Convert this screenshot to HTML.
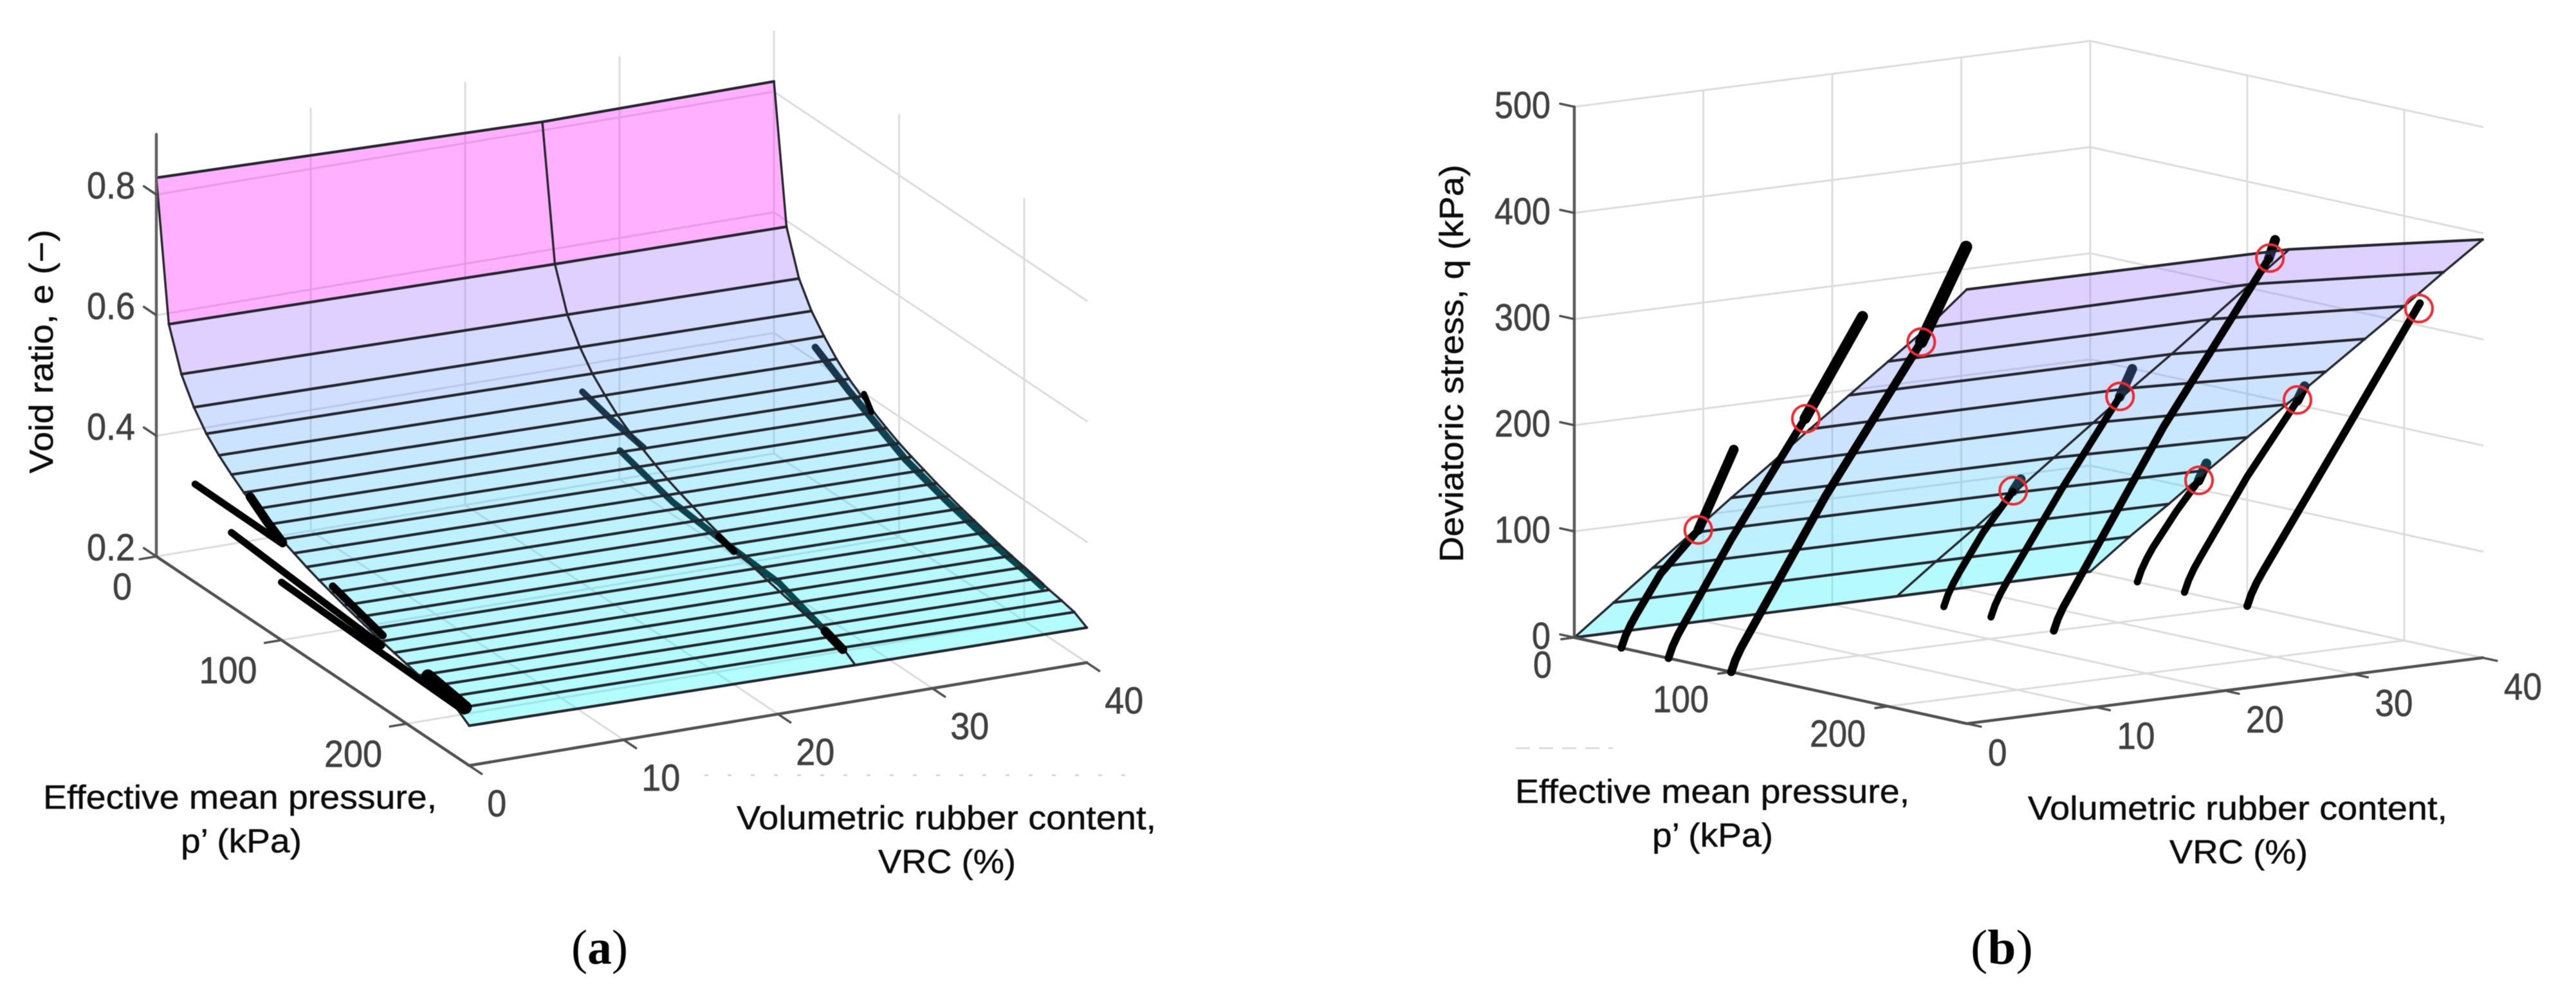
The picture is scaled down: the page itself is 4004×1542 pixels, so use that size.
<!DOCTYPE html>
<html lang="en">
<head>
<meta charset="utf-8">
<title>Void ratio and deviatoric stress surfaces</title>
<style>
html,body{margin:0;padding:0;background:#fff;}
svg{display:block;filter:blur(0.6px);}
text{font-family:"Liberation Sans",sans-serif;}
.title{font-size:52px;fill:#0c0c0c;stroke:#0c0c0c;stroke-width:0.5px;}
.tick{font-size:58px;fill:#404040;stroke:#404040;stroke-width:0.7px;}
.cap{font-family:"Liberation Serif",serif;font-size:76px;fill:#000;}
</style>
</head>
<body>
<svg id="chart" width="4004" height="1542" viewBox="0 0 4004 1542">
  <rect width="4004" height="1542" fill="#ffffff"/>
  <g id="panelA"></g>
  <g id="panelB"></g>

  <line x1="1095" y1="1205" x2="1750" y2="1205" stroke="#cfcfcf" stroke-width="2.5" stroke-dasharray="6 30"/>
  <line x1="2356" y1="1163" x2="2507" y2="1163" stroke="#d4d4d4" stroke-width="2.5" stroke-dasharray="22 14"/>

  <text class="title" transform="translate(82,736) rotate(-90)" textLength="379" lengthAdjust="spacingAndGlyphs">Void ratio, e (−)</text>
  <text class="title" x="67" y="1257" textLength="612" lengthAdjust="spacingAndGlyphs">Effective mean pressure,</text>
  <text class="title" x="281" y="1325" textLength="188" lengthAdjust="spacingAndGlyphs">p’ (kPa)</text>
  <text class="title" x="1145" y="1289" textLength="652" lengthAdjust="spacingAndGlyphs">Volumetric rubber content,</text>
  <text class="title" x="1365" y="1357" textLength="214" lengthAdjust="spacingAndGlyphs">VRC (%)</text>
  <text class="cap" x="888" y="1498" textLength="88" lengthAdjust="spacingAndGlyphs">(<tspan font-weight="bold">a</tspan>)</text>

  <text class="title" transform="translate(2274,874) rotate(-90)" textLength="618" lengthAdjust="spacingAndGlyphs">Deviatoric stress, q (kPa)</text>
  <text class="title" x="2355" y="1248" textLength="613" lengthAdjust="spacingAndGlyphs">Effective mean pressure,</text>
  <text class="title" x="2568" y="1316" textLength="188" lengthAdjust="spacingAndGlyphs">p’ (kPa)</text>
  <text class="title" x="3152" y="1274" textLength="652" lengthAdjust="spacingAndGlyphs">Volumetric rubber content,</text>
  <text class="title" x="3372" y="1342" textLength="215" lengthAdjust="spacingAndGlyphs">VRC (%)</text>
  <text class="cap" x="3063" y="1498" textLength="97" lengthAdjust="spacingAndGlyphs">(<tspan font-weight="bold">b</tspan>)</text>
</svg>

<script>
/* ---------- Panel A data ---------- */
const aVrcTicks = [0, 10, 20, 30, 40];
const aPressureTicks = [0, 100, 200];
const aVoidTicks = [0.2, 0.4, 0.6, 0.8];
const aVoidTickLabels = ['0.2', '0.4', '0.6', '0.8'];
const aWallVoidLevels = [0.2, 0.4, 0.6, 0.8];
const aMeshVrc = [0, 25, 40];
const aMeshPressure = [0, 10, 20, 30, 40, 50, 60, 70, 80, 90, 100, 110, 120, 130, 140, 150, 160, 170, 180, 190, 200, 210, 220, 230, 240, 250];
const aVoidAtVrc0 = [0.828, 0.599, 0.530, 0.489, 0.459, 0.437, 0.419, 0.403, 0.390, 0.378, 0.367, 0.358, 0.349, 0.341, 0.334, 0.327, 0.321, 0.315, 0.309, 0.304, 0.299, 0.294, 0.290, 0.285, 0.281, 0.266];
const aVoidAtVrc25 = [0.814, 0.592, 0.522, 0.482, 0.452, 0.430, 0.411, 0.396, 0.383, 0.371, 0.360, 0.351, 0.343, 0.335, 0.328, 0.321, 0.315, 0.309, 0.303, 0.298, 0.293, 0.288, 0.283, 0.279, 0.275, 0.260];
const aVoidAtVrc40 = [0.817, 0.590, 0.518, 0.478, 0.450, 0.426, 0.407, 0.392, 0.379, 0.367, 0.356, 0.347, 0.339, 0.331, 0.324, 0.317, 0.311, 0.305, 0.299, 0.294, 0.289, 0.284, 0.279, 0.275, 0.270, 0.258];

const aTestV0aP = [31, 60, 101];
const aTestV0aE = [0.363, 0.362, 0.361];
const aTestV0aEndP = [75, 88, 101];
const aTestV0aEndE = [0.403, 0.381, 0.363];
const aTestV0bP = [60, 120, 180];
const aTestV0bE = [0.323, 0.312, 0.302];
const aTestV0bEndP = [141, 181];
const aTestV0bEndE = [0.346, 0.320];
const aTestV0cP = [100, 170, 246];
const aTestV0cE = [0.296, 0.290, 0.285];
const aTestV0cEndP = [217, 247];
const aTestV0cEndE = [0.303, 0.292];
const aTestV25aP = [32, 55, 81];
const aTestV25aE = [0.411, 0.397, 0.386];
const aTestV25bP = [62, 104, 143, 189, 238];
const aTestV25bE = [0.355, 0.328, 0.319, 0.312, 0.274];
const aTestV25bMidP = [141, 153];
const aTestV25bMidE = [0.322, 0.314];
const aTestV25bEndP = [226, 240];
const aTestV25bEndE = [0.283, 0.272];
const aTestV40P = [33, 60, 105, 138, 168, 200, 214];
const aTestV40E = [0.422, 0.387, 0.336, 0.313, 0.296, 0.284, 0.277];
const aTestV40EndP = [72, 78];
const aTestV40EndE = [0.399, 0.377];

/* ---------- Panel B data ---------- */
const bVrcTicks = [0, 10, 20, 30, 40];
const bPressureTicks = [0, 100, 200];
const bStressTicks = [0, 100, 200, 300, 400, 500];
const bMeshVrc = [0, 25, 40];
const bMeshPressure = [0, 25, 50, 75, 100, 125, 150, 175, 200, 225, 250];
const bStressAtVrc0 = [0, 41, 82, 123, 164, 204, 245, 285, 325, 365, 409];
const bStressAtVrc25 = [0, 41, 81, 122, 163, 204, 245, 285, 326, 367, 408];
const bStressAtVrc40 = [0, 41, 80, 120, 159, 198, 237, 276, 315, 355, 394];

const bPath1P = [30, 32.6, 36, 40, 55, 79];
const bPath1Q = [0, 12, 24, 36, 78, 127];
const bPath1EndP = [79, 101.6];
const bPath1EndQ = [127, 210];
const bPath2P = [60, 62.6, 66, 70, 100, 147];
const bPath2Q = [0, 12, 24, 36, 125, 254];
const bPath2EndP = [147, 183.6];
const bPath2EndQ = [254, 362];
const bPath3P = [100, 102.6, 106, 110, 160, 221];
const bPath3Q = [0, 12, 24, 36, 185, 350];
const bPath3EndP = [221, 249.6];
const bPath3EndQ = [350, 449];
const bPath4P = [30, 32.6, 36, 40, 55, 74];
const bPath4Q = [0, 12, 24, 36, 78, 123];
const bPath4EndP = [74, 79];
const bPath4EndQ = [123, 136];
const bPath5P = [60, 62.6, 66, 70, 105, 142];
const bPath5Q = [0, 12, 24, 36, 135, 234];
const bPath5EndP = [142, 150];
const bPath5EndQ = [234, 263];
const bPath6P = [100, 102.6, 106, 110, 170, 237];
const bPath6Q = [0, 12, 24, 36, 215, 395];
const bPath6EndP = [237, 241];
const bPath6EndQ = [395, 414];
const bPath7P = [30, 32.6, 36, 40, 55, 69];
const bPath7Q = [0, 12, 24, 36, 75, 108];
const bPath7EndP = [69, 74];
const bPath7EndQ = [108, 126];
const bPath8P = [60, 62.6, 66, 70, 100, 132];
const bPath8Q = [0, 12, 24, 36, 122, 204];
const bPath8EndP = [132, 136.5];
const bPath8EndQ = [204, 219];
const bPath9P = [100, 102.6, 106, 110, 160, 210];
const bPath9Q = [0, 12, 24, 36, 178, 321];

const bFailureVrc = [0, 0, 0, 25, 25, 25, 40, 40, 40];
const bFailureP = [79, 147.5, 221, 74.2, 142.2, 237.7, 69.3, 132, 209.4];
const bFailureQ = [127, 254, 350, 123.5, 234.5, 395.8, 108.5, 204.6, 315.8];

/* ---------- Axis functions ---------- */
function aX(v, p) { return 243 + 24 * v + 1.945 * p; }
function aY(v, p, e) { return 865 - 4 * v + 1.30 * p - 937.5 * (e - 0.2); }
function bX(v, p) { return 2447 + 20.05 * v + 2.44 * p; }
function bY(v, p, q) { return 991 - 2.56 * v + 0.535 * p - 1.65 * q; }
function aPt(v, p, e) { return [aX(v, p), aY(v, p, e)]; }
function bPt(v, p, q) { return [bX(v, p), bY(v, p, q)]; }

/* ---------- Drawing helpers ---------- */
const root = document.getElementById('chart');
const NS = root.namespaceURI;
function make(parent, tag, attrs) {
  const el = document.createElementNS(NS, tag);
  Object.keys(attrs).forEach(function (k) { el.setAttribute(k, attrs[k]); });
  parent.appendChild(el);
  return el;
}
function polyD(pts) {
  return pts.map(function (pt, i) { return (i ? 'L' : 'M') + pt[0].toFixed(1) + ' ' + pt[1].toFixed(1); }).join('');
}
function strokeLine(parent, pts, color, width) {
  return make(parent, 'path', { d: polyD(pts), fill: 'none', stroke: color, 'stroke-width': width, 'stroke-linecap': 'round', 'stroke-linejoin': 'round' });
}
function coolColor(t) {
  const c = Math.max(0, Math.min(1, t));
  return 'rgb(' + Math.round(c * 255) + ',' + Math.round((1 - c) * 255) + ',255)';
}
function tickLabel(parent, str, x, y, anchor, perChar) {
  const len = str.replace('.', '').length * perChar + (str.indexOf('.') >= 0 ? perChar / 2 : 0);
  const el = make(parent, 'text', { class: 'tick', x: x, y: y, 'text-anchor': anchor, textLength: len, lengthAdjust: 'spacingAndGlyphs' });
  el.textContent = str;
  return el;
}

const GRID = '#dcdcdc';
const AXIS = '#505050';
const MESH = '#24262c';

/* ---------- Panel A ---------- */
(function () {
  const g = document.getElementById('panelA');
  const eTop = 0.9;

  aVrcTicks.slice(1).forEach(function (v) {
    const back = strokeLine(g, [aPt(v, 0, 0.2), aPt(v, 0, eTop)], GRID, 3);
    
    
    const floor = strokeLine(g, [aPt(v, 0, 0.2), aPt(v, 250, 0.2)], GRID, 3);
    
    
  });
  aPressureTicks.slice(1).forEach(function (p) {
    const side = strokeLine(g, [aPt(40, p, 0.2), aPt(40, p, eTop)], GRID, 3);
    
    
    const floor = strokeLine(g, [aPt(0, p, 0.2), aPt(40, p, 0.2)], GRID, 3);
    
    
  });
  aWallVoidLevels.forEach(function (e) {
    const back = strokeLine(g, [aPt(0, 0, e), aPt(40, 0, e)], GRID, 3);
    
    
    const side = strokeLine(g, [aPt(40, 0, e), aPt(40, 250, e)], GRID, 3);
    
    
  });

  function test(p, e, v, w, color) {
    return strokeLine(g, p.map(function (pp, i) { return aPt(v, pp, e[i]); }), color, w);
  }

  /* test paths seen through the translucent surface */
  const u1 = test(aTestV25aP, aTestV25aE, 25, 10, '#000');
  
  
  const u2 = test(aTestV25bP, aTestV25bE, 25, 10, '#000');
  
  
  const u3 = test(aTestV40P, aTestV40E, 40, 11, '#000');
  
  

  /* translucent surface */
  const columns = [aVoidAtVrc0, aVoidAtVrc25, aVoidAtVrc40];
  const maxE = aVoidAtVrc0[0];
  const minE = 0.26;
  for (let r = 0; r < aMeshPressure.length - 1; r++) {
    for (let c = 0; c < aMeshVrc.length - 1; c++) {
      const quad = [
        aPt(aMeshVrc[c], aMeshPressure[r], columns[c][r]),
        aPt(aMeshVrc[c + 1], aMeshPressure[r], columns[c + 1][r]),
        aPt(aMeshVrc[c + 1], aMeshPressure[r + 1], columns[c + 1][r + 1]),
        aPt(aMeshVrc[c], aMeshPressure[r + 1], columns[c][r + 1])
      ];
      const face = make(g, 'path', { d: polyD(quad) + 'Z', fill: coolColor((aVoidAtVrc0[r] - minE) / (maxE - minE)), 'fill-opacity': 0.31, stroke: 'none' });
      
      
    }
  }
  aMeshPressure.forEach(function (p, r) {
    const pts = aMeshVrc.map(function (v, c) { return aPt(v, p, columns[c][r]); });
    const row = strokeLine(g, pts, MESH, 4.2);
    
    
  });
  aMeshVrc.forEach(function (v, c) {
    const pts = aMeshPressure.map(function (p, r) { return aPt(v, p, columns[c][r]); });
    const col = strokeLine(g, pts, MESH, 3.4);
    
    
  });

  /* test paths in front of the surface */
  const o1 = test(aTestV0aP, aTestV0aE, 0, 11, '#000');
  
  
  const o2 = test(aTestV0aEndP, aTestV0aEndE, 0, 14, '#000');
  
  
  const o3 = test(aTestV0bP, aTestV0bE, 0, 11, '#000');
  
  
  const o4 = test(aTestV0bEndP, aTestV0bEndE, 0, 12, '#000');
  
  
  const o5 = test(aTestV0cP, aTestV0cE, 0, 11, '#000');
  
  
  const o6 = test(aTestV0cEndP, aTestV0cEndE, 0, 20, '#000');
  
  
  const o7 = test(aTestV25bMidP, aTestV25bMidE, 25, 11, '#000');
  
  
  const o8 = test(aTestV25bEndP, aTestV25bEndE, 25, 14, '#000');
  
  
  const o9 = test(aTestV40EndP, aTestV40EndE, 40, 9, '#000');
  
  

  /* axes */
  const zAxis = strokeLine(g, [aPt(0, 0, 0.2), aPt(0, 0, eTop)], '#606060', 4.5);
  
  
  const pAxis = strokeLine(g, [aPt(0, 0, 0.2), aPt(0, 250, 0.2)], AXIS, 4.5);
  
  
  const vAxis = strokeLine(g, [aPt(0, 250, 0.2), aPt(40, 250, 0.2)], AXIS, 4.5);
  
  

  aVoidTicks.forEach(function (e, i) {
    const t = strokeLine(g, [aPt(0, 0, e), aPt(0, -10, e)], AXIS, 3.5);
    
    
    const lab = tickLabel(g, aVoidTickLabels[i], aX(0, 0) - 33, aY(0, 0, e) + 6, 'end', 30);
    
    
  });
  aPressureTicks.forEach(function (p) {
    const t = strokeLine(g, [aPt(0, p, 0.2), aPt(-1.08, p, 0.2)], AXIS, 3.5);
    
    
    const lab = tickLabel(g, String(p), aX(0, p) - 38, aY(0, p, 0.2) + 67, 'end', 30);
    
    
  });
  aVrcTicks.forEach(function (v) {
    const t = strokeLine(g, [aPt(v, 250, 0.2), aPt(v, 260, 0.2)], AXIS, 3.5);
    
    
    const lab = tickLabel(g, String(v), aX(v, 250) + 28, aY(v, 250, 0.2) + 79, 'start', 30);
    
    
  });
})();

/* ---------- Panel B ---------- */
(function () {
  const g = document.getElementById('panelB');

  bVrcTicks.slice(1).forEach(function (v) {
    const back = strokeLine(g, [bPt(v, 0, 0), bPt(v, 0, 500)], GRID, 3);
    
    
    const floor = strokeLine(g, [bPt(v, 0, 0), bPt(v, 250, 0)], GRID, 3);
    
    
  });
  bPressureTicks.forEach(function (p) {
    if (p > 0) {
      const side = strokeLine(g, [bPt(40, p, 0), bPt(40, p, 500)], GRID, 3);
      
      
    }
    const floor = strokeLine(g, [bPt(0, p, 0), bPt(40, p, 0)], GRID, 3);
    
    
  });
  bStressTicks.forEach(function (q) {
    const back = strokeLine(g, [bPt(0, 0, q), bPt(40, 0, q)], GRID, 3);
    
    
    const side = strokeLine(g, [bPt(40, 0, q), bPt(40, 250, q)], GRID, 3);
    
    
  });

  function stress(p, q, v, w) {
    return strokeLine(g, p.map(function (pp, i) { return bPt(v, pp, q[i]); }), '#000', w);
  }

  /* post-failure segments seen through the surface */
  const u4 = stress(bPath4EndP, bPath4EndQ, 25, 15);
  
  
  const u5 = stress(bPath5EndP, bPath5EndQ, 25, 15);
  
  
  const u6 = stress(bPath6EndP, bPath6EndQ, 25, 15);
  
  
  const u7 = stress(bPath7EndP, bPath7EndQ, 40, 15);
  
  
  const u8 = stress(bPath8EndP, bPath8EndQ, 40, 15);
  
  

  /* translucent surface */
  const columns = [bStressAtVrc0, bStressAtVrc25, bStressAtVrc40];
  const maxQ = 700;
  for (let r = 0; r < bMeshPressure.length - 1; r++) {
    for (let c = 0; c < bMeshVrc.length - 1; c++) {
      const quad = [
        bPt(bMeshVrc[c], bMeshPressure[r], columns[c][r]),
        bPt(bMeshVrc[c + 1], bMeshPressure[r], columns[c + 1][r]),
        bPt(bMeshVrc[c + 1], bMeshPressure[r + 1], columns[c + 1][r + 1]),
        bPt(bMeshVrc[c], bMeshPressure[r + 1], columns[c][r + 1])
      ];
      const face = make(g, 'path', { d: polyD(quad) + 'Z', fill: coolColor(bStressAtVrc0[r + 1] / maxQ), 'fill-opacity': 0.31, stroke: 'none' });
      
      
    }
  }
  bMeshPressure.forEach(function (p, r) {
    const pts = bMeshVrc.map(function (v, c) { return bPt(v, p, columns[c][r]); });
    const row = strokeLine(g, pts, MESH, 4.2);
    
    
  });
  bMeshVrc.forEach(function (v, c) {
    const pts = bMeshPressure.map(function (p, r) { return bPt(v, p, columns[c][r]); });
    const col = strokeLine(g, pts, MESH, 3.4);
    
    
  });

  /* axes */
  const zAxis = strokeLine(g, [bPt(0, 0, 0), bPt(0, 0, 500)], '#5a5a5a', 4.5);
  
  
  const pAxis = strokeLine(g, [bPt(0, 0, 0), bPt(0, 250, 0)], AXIS, 4.5);
  
  
  const vAxis = strokeLine(g, [bPt(0, 250, 0), bPt(40, 250, 0)], AXIS, 4.5);
  
  

  bStressTicks.forEach(function (q) {
    const t = strokeLine(g, [bPt(0, 0, q), bPt(0, -9, q)], AXIS, 3.5);
    
    
    const lab = tickLabel(g, String(q), bX(0, 0) - 37, bY(0, 0, q) + 17.5, 'end', 29);
    
    
  });
  bPressureTicks.forEach(function (p) {
    const t = strokeLine(g, [bPt(0, p, 0), bPt(-1, p, 0)], AXIS, 3.5);
    
    
    const lab = tickLabel(g, String(p), bX(0, p) - 35, bY(0, p, 0) + 62.5, 'end', 29);
    
    
  });
  bVrcTicks.forEach(function (v) {
    const t = strokeLine(g, [bPt(v, 250, 0), bPt(v, 259, 0)], AXIS, 3.5);
    
    
    const lab = tickLabel(g, String(v), bX(v, 250) + 33, bY(v, 250, 0) + 65, 'start', 29.5);
    
    
  });

  /* stress paths in front of the surface */
  const p1 = stress(bPath1P, bPath1Q, 0, 12);
  
  
  const p1e = stress(bPath1EndP, bPath1EndQ, 0, 15);
  
  
  const p2 = stress(bPath2P, bPath2Q, 0, 12);
  
  
  const p2e = stress(bPath2EndP, bPath2EndQ, 0, 17);
  
  
  const p3 = stress(bPath3P, bPath3Q, 0, 13);
  
  
  const p3e = stress(bPath3EndP, bPath3EndQ, 0, 19);
  
  
  const p4 = stress(bPath4P, bPath4Q, 25, 11);
  
  
  const p5 = stress(bPath5P, bPath5Q, 25, 11);
  
  
  const p6 = stress(bPath6P, bPath6Q, 25, 12);
  
  
  const p7 = stress(bPath7P, bPath7Q, 40, 11);
  
  
  const p8 = stress(bPath8P, bPath8Q, 40, 11);
  
  
  const p9 = stress(bPath9P, bPath9Q, 40, 12);
  
  

  /* failure point markers */
  bFailureP.forEach(function (p, i) {
    const pt = bPt(bFailureVrc[i], p, bFailureQ[i]);
    const ring = make(g, 'circle', { cx: pt[0], cy: pt[1], r: 21, fill: 'none', stroke: '#f0282f', 'stroke-width': 4 });
    
    
  });
})();
</script>
</body>
</html>
